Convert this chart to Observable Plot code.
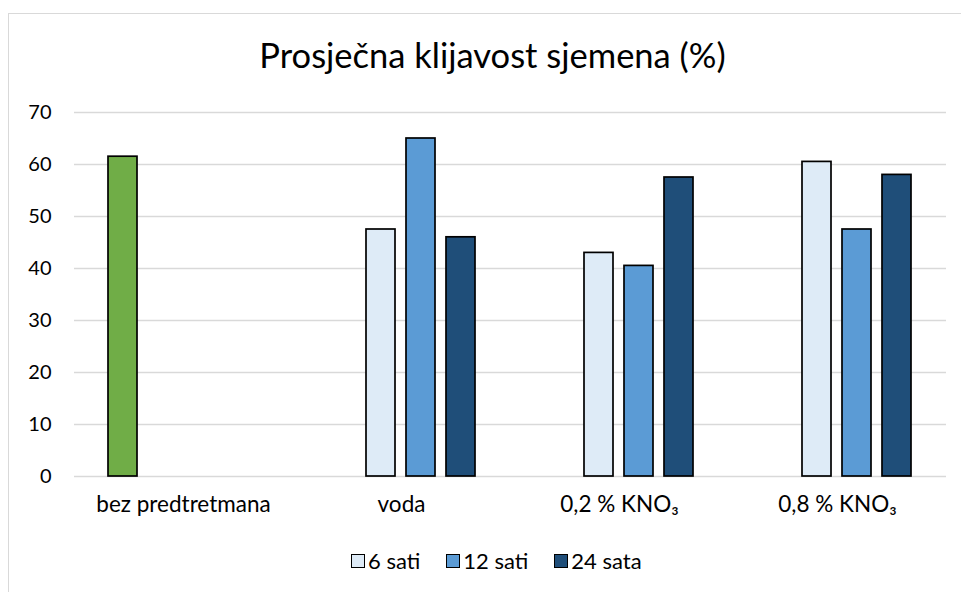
<!DOCTYPE html>
<html>
<head>
<meta charset="utf-8">
<script src="https://cdn.jsdelivr.net/npm/d3@7"></script>
<script src="https://cdn.jsdelivr.net/npm/@observablehq/plot@0.6"></script>
<style>
  html, body { margin: 0; padding: 0; background: #fff; }
  #wrap { position: relative; width: 961px; height: 592px; overflow: hidden; font-family: Lato, "Open Sans", sans-serif; color: #000; }
  #frame { position: absolute; left: 8px; top: 13px; width: 1000px; height: 1000px; border: 1.5px solid #d9d9d9; box-sizing: border-box; }
  #title { position: absolute; left: 0; top: 38px; width: 985px; text-align: center; font-size: 34.5px; line-height: 1; }
  #chart { position: absolute; left: 0; top: 90px; }
  #legend { position: absolute; left: 351px; top: 550px; display: flex; align-items: center; font-size: 22px; line-height: 1; }
  .item { display: flex; align-items: center; margin-right: 26px; }
  .sw { width: 14px; height: 14px; border: 1.5px solid #000; box-sizing: border-box; margin-right: 3px; }
</style>
</head>
<body>
<div id="wrap">
  <div id="frame"></div>
  <div id="title">Prosječna klijavost sjemena (%)</div>
  <div id="chart"></div>
  <div id="legend"></div>
</div>
<script>
const categories = ["bez predtretmana", "voda", "0,2 % KNO₃", "0,8 % KNO₃"];
const seriesNames = ["bez predtretmana", "6 sati", "12 sati", "24 sata"];
const seriesColors = ["#70ad47", "#deebf7", "#5b9bd5", "#1f4e79"];
const kontrola = [61.5, null, null, null];
const sati6 = [null, 47.5, 43, 60.5];
const sati12 = [null, 65, 40.5, 47.5];
const sata24 = [null, 46, 57.5, 58];
const yTicks = [0, 10, 20, 30, 40, 50, 60, 70];
const legendSeries = ["6 sati", "12 sati", "24 sata"];

const seriesValues = [kontrola, sati6, sati12, sata24];
const data = [];
categories.forEach((c, i) => {
  seriesNames.forEach((s, j) => {
    const v = seriesValues[j][i];
    if (v != null) data.push({category: c, series: s, value: v});
  });
});

const chart = Plot.plot({
  width: 961,
  height: 450,
  marginLeft: 73,
  marginRight: 15,
  marginTop: 22,
  marginBottom: 64,
  style: {fontFamily: "Lato, 'Open Sans', sans-serif", fontSize: "20px", color: "#000", background: "transparent"},
  fx: {domain: categories, padding: 0, label: null, axis: "bottom", tickSize: 0, tickPadding: 20},
  x: {domain: seriesNames, paddingInner: 0.27, paddingOuter: 0.8, axis: null},
  y: {domain: [0, 70], ticks: yTicks, tickSize: 0, tickPadding: 23, label: null, tickFormat: d => d},
  color: {domain: seriesNames, range: seriesColors},
  marks: [
    Plot.ruleY(yTicks, {stroke: "#d9d9d9", strokeWidth: 1.5}),
    Plot.barY(data, {fx: "category", x: "series", y: "value", fill: "series", stroke: "#000", strokeWidth: 1.7})
  ]
});
chart.querySelectorAll('[aria-label^="fx-axis"]').forEach(g => { g.style.fontSize = "22.5px"; });
document.getElementById("chart").appendChild(chart);

const legend = document.getElementById("legend");
legendSeries.forEach(s => {
  const item = document.createElement("div");
  item.className = "item";
  const sw = document.createElement("div");
  sw.className = "sw";
  sw.style.background = seriesColors[seriesNames.indexOf(s)];
  const t = document.createElement("span");
  t.textContent = s;
  item.appendChild(sw);
  item.appendChild(t);
  legend.appendChild(item);
});
</script>
</body>
</html>
